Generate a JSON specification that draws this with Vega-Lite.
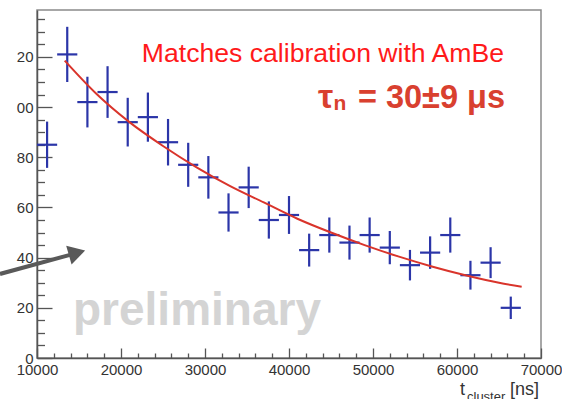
{
  "$schema": "https://vega.github.io/schema/vega-lite/v6.json",
  "width": 504,
  "height": 348,
  "autosize": {"type": "none"},
  "padding": {"left": 37, "top": 10, "right": 21, "bottom": 41},
  "background": "white",
  "config": {
    "view": {"stroke": "#8a8a8a", "strokeWidth": 1.5},
    "font": "Liberation Sans",
    "axis": {"labelFont": "Liberation Sans", "labelFontSize": 15, "labelColor": "#333333", "domainColor": "#555555", "domainWidth": 1.5, "tickColor": "#555555", "tickWidth": 1.3, "grid": false, "title": null, "labelFlush": false, "labelOverlap": false, "labelBound": false}
  },
  "resolve": {"axis": {"x": "independent", "y": "independent"}},
  "datasets": {
    "hist": [
      {"t": 11200, "t0": 10000, "t1": 12400, "count": 85, "lo": 75.78, "hi": 94.22},
      {"t": 13600, "t0": 12400, "t1": 14800, "count": 121, "lo": 110, "hi": 132},
      {"t": 16000, "t0": 14800, "t1": 17200, "count": 102, "lo": 91.9, "hi": 112.1},
      {"t": 18400, "t0": 17200, "t1": 19600, "count": 106, "lo": 95.7, "hi": 116.3},
      {"t": 20800, "t0": 19600, "t1": 22000, "count": 94, "lo": 84.3, "hi": 103.7},
      {"t": 23200, "t0": 22000, "t1": 24400, "count": 96, "lo": 86.2, "hi": 105.8},
      {"t": 25600, "t0": 24400, "t1": 26800, "count": 86, "lo": 76.73, "hi": 95.27},
      {"t": 28000, "t0": 26800, "t1": 29200, "count": 77, "lo": 68.23, "hi": 85.77},
      {"t": 30400, "t0": 29200, "t1": 31600, "count": 72, "lo": 63.51, "hi": 80.49},
      {"t": 32800, "t0": 31600, "t1": 34000, "count": 58, "lo": 50.38, "hi": 65.62},
      {"t": 35200, "t0": 34000, "t1": 36400, "count": 68, "lo": 59.75, "hi": 76.25},
      {"t": 37600, "t0": 36400, "t1": 38800, "count": 55, "lo": 47.58, "hi": 62.42},
      {"t": 40000, "t0": 38800, "t1": 41200, "count": 57, "lo": 49.45, "hi": 64.55},
      {"t": 42400, "t0": 41200, "t1": 43600, "count": 43, "lo": 36.44, "hi": 49.56},
      {"t": 44800, "t0": 43600, "t1": 46000, "count": 49, "lo": 42, "hi": 56},
      {"t": 47200, "t0": 46000, "t1": 48400, "count": 46, "lo": 39.22, "hi": 52.78},
      {"t": 49600, "t0": 48400, "t1": 50800, "count": 49, "lo": 42, "hi": 56},
      {"t": 52000, "t0": 50800, "t1": 53200, "count": 44, "lo": 37.37, "hi": 50.63},
      {"t": 54400, "t0": 53200, "t1": 55600, "count": 37, "lo": 30.92, "hi": 43.08},
      {"t": 56800, "t0": 55600, "t1": 58000, "count": 42, "lo": 35.52, "hi": 48.48},
      {"t": 59200, "t0": 58000, "t1": 60400, "count": 49, "lo": 42, "hi": 56},
      {"t": 61600, "t0": 60400, "t1": 62800, "count": 33, "lo": 27.26, "hi": 38.74},
      {"t": 64000, "t0": 62800, "t1": 65200, "count": 38, "lo": 31.84, "hi": 44.16},
      {"t": 66400, "t0": 65200, "t1": 67600, "count": 20, "lo": 15.53, "hi": 24.47}
    ],
    "fit": [
      {"t": 13300, "f": 118.5},
      {"t": 17000, "f": 105.5},
      {"t": 21000, "f": 94},
      {"t": 25000, "f": 84.5},
      {"t": 29000, "f": 76},
      {"t": 33000, "f": 68.5},
      {"t": 37000, "f": 62},
      {"t": 41000, "f": 55.5},
      {"t": 45000, "f": 50},
      {"t": 49000, "f": 45},
      {"t": 53000, "f": 40.5},
      {"t": 57000, "f": 36.5},
      {"t": 61000, "f": 33},
      {"t": 65000, "f": 30},
      {"t": 67700, "f": 28.4}
    ]
  },
  "layer": [
    {
      "data": {"name": "hist"},
      "mark": {"type": "rule", "color": "#2b35a8", "strokeWidth": 2.2},
      "encoding": {
        "x": {"field": "t", "type": "quantitative",
          "scale": {"domain": [10000, 70000], "nice": false, "zero": false},
          "axis": {"orient": "bottom", "values": [10000,20000,30000,40000,50000,60000,70000], "format": "d", "ticks": false, "labelPadding": 4, "labelOverlap": false}
        },
        "y": {"field": "lo", "type": "quantitative",
          "scale": {"domain": [0, 138.7], "nice": false},
          "axis": {"orient": "left", "values": [0,20,40,60,80,100,120], "format": "d", "ticks": false, "labelPadding": 4, "labelOverlap": false,
            "labelExpr": "datum.value >= 100 ? substring(datum.label, 1) : datum.label"}
        },
        "y2": {"field": "hi"}
      }
    },
    {
      "data": {"name": "hist"},
      "mark": {"type": "rule", "color": "#2b35a8", "strokeWidth": 2.2},
      "encoding": {
        "x": {"field": "t0", "type": "quantitative",
          "axis": {"orient": "bottom", "values": [10000,20000,30000,40000,50000,60000,70000], "domain": false, "labels": false, "tickSize": 10, "offset": -10}
        },
        "x2": {"field": "t1"},
        "y": {"field": "count", "type": "quantitative",
          "axis": {"orient": "left", "values": [0,20,40,60,80,100,120], "domain": false, "labels": false, "tickSize": 15, "offset": -15}
        }
      }
    },
    {
      "data": {"name": "fit"},
      "mark": {"type": "line", "color": "#d9342b", "strokeWidth": 2, "interpolate": "monotone"},
      "encoding": {
        "x": {"field": "t", "type": "quantitative",
          "axis": {"orient": "bottom", "values": [12000,14000,16000,18000,22000,24000,26000,28000,32000,34000,36000,38000,42000,44000,46000,48000,52000,54000,56000,58000,62000,64000,66000,68000], "domain": false, "labels": false, "tickSize": 5, "offset": -5}
        },
        "y": {"field": "f", "type": "quantitative",
          "axis": {"orient": "left", "values": [5,10,15,25,30,35,45,50,55,65,70,75,85,90,95,105,110,115,125,130,135], "domain": false, "labels": false, "tickSize": 7.5, "offset": -7.5}
        }
      }
    },
    {
      "data": {"values": [{"x1": 5595, "y1": 33.5, "x2": 13929, "y2": 41.1}]},
      "mark": {"type": "rule", "color": "#595959", "strokeWidth": 4},
      "encoding": {
        "x": {"field": "x1", "type": "quantitative", "axis": null},
        "x2": {"field": "x2"},
        "y": {"field": "y1", "type": "quantitative", "axis": null},
        "y2": {"field": "y2"}
      }
    },
    {
      "data": {"values": [{"x": 14762, "y": 41.9}]},
      "mark": {"type": "point", "shape": "triangle-right", "filled": true, "color": "#595959", "opacity": 1, "size": 380, "angle": 344},
      "encoding": {
        "x": {"field": "x", "type": "quantitative", "axis": null},
        "y": {"field": "y", "type": "quantitative", "axis": null}
      }
    },
    {
      "data": {"values": [{"x": 14286, "y": 13.2, "text": "preliminary"}]},
      "mark": {"type": "text", "align": "left", "baseline": "alphabetic", "fontSize": 46, "fontWeight": "bold", "color": "#d4d4d4", "font": "Liberation Sans"},
      "encoding": {
        "x": {"field": "x", "type": "quantitative", "axis": null},
        "y": {"field": "y", "type": "quantitative", "axis": null},
        "text": {"field": "text"}
      }
    },
    {
      "data": {"values": [{"x": 65595, "y": 118.1, "text": "Matches calibration with AmBe"}]},
      "mark": {"type": "text", "align": "right", "baseline": "alphabetic", "fontSize": 26.6, "color": "#ff1a1a", "font": "Liberation Sans"},
      "encoding": {
        "x": {"field": "x", "type": "quantitative", "axis": null},
        "y": {"field": "y", "type": "quantitative", "axis": null},
        "text": {"field": "text"}
      }
    },
    {
      "data": {"values": [{"x": 65714, "y": 99.7, "text": "= 30±9 μs"}]},
      "mark": {"type": "text", "align": "right", "baseline": "alphabetic", "fontSize": 32.5, "fontWeight": "bold", "color": "#d9402f", "font": "Liberation Sans"},
      "encoding": {
        "x": {"field": "x", "type": "quantitative", "axis": null},
        "y": {"field": "y", "type": "quantitative", "axis": null},
        "text": {"field": "text"}
      }
    },
    {
      "data": {"values": [{"x": 43452, "y": 99.7, "text": "τ"}]},
      "mark": {"type": "text", "align": "left", "baseline": "alphabetic", "fontSize": 34, "fontWeight": "bold", "color": "#d9402f", "font": "Liberation Sans"},
      "encoding": {
        "x": {"field": "x", "type": "quantitative", "axis": null},
        "y": {"field": "y", "type": "quantitative", "axis": null},
        "text": {"field": "text"}
      }
    },
    {
      "data": {"values": [{"x": 45300, "y": 98.9, "text": "n"}]},
      "mark": {"type": "text", "align": "left", "baseline": "alphabetic", "fontSize": 21, "fontWeight": "bold", "color": "#d9402f", "font": "Liberation Sans"},
      "encoding": {
        "x": {"field": "x", "type": "quantitative", "axis": null},
        "y": {"field": "y", "type": "quantitative", "axis": null},
        "text": {"field": "text"}
      }
    },
    {
      "data": {"values": [{"x": 60360, "y": -14.75, "text": "t"}, {"x": 66310, "y": -14.75, "text": "[ns]"}]},
      "mark": {"type": "text", "align": "left", "baseline": "alphabetic", "fontSize": 18, "color": "#333333", "font": "Liberation Sans"},
      "encoding": {
        "x": {"field": "x", "type": "quantitative", "axis": null},
        "y": {"field": "y", "type": "quantitative", "axis": null},
        "text": {"field": "text"}
      }
    },
    {
      "data": {"values": [{"x": 61190, "y": -17.2, "text": "cluster"}]},
      "mark": {"type": "text", "align": "left", "baseline": "alphabetic", "fontSize": 13, "color": "#333333", "font": "Liberation Sans"},
      "encoding": {
        "x": {"field": "x", "type": "quantitative", "axis": null},
        "y": {"field": "y", "type": "quantitative", "axis": null},
        "text": {"field": "text"}
      }
    }
  ]
}
